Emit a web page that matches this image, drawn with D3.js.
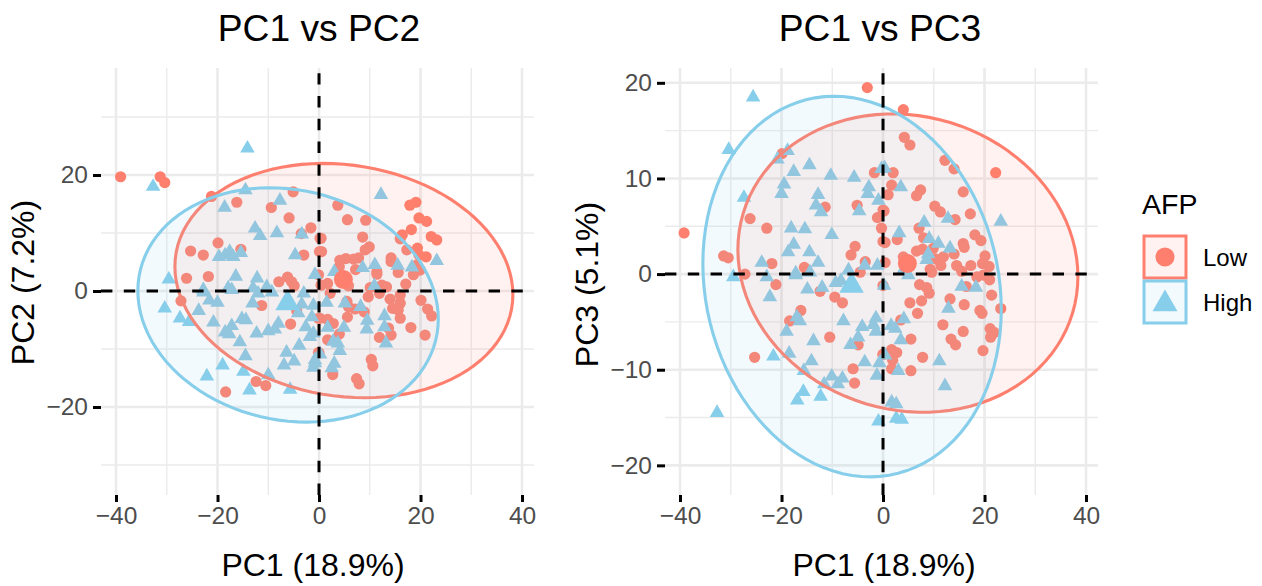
<!DOCTYPE html>
<html>
<head>
<meta charset="utf-8">
<script src="https://cdn.jsdelivr.net/npm/d3@7"></script>
<style>
  body { margin: 0; background: white; }
  text { font-family: "Liberation Sans", Arial, sans-serif; }
</style>
</head>
<body>
<div id="chart"></div>
<script>
// [PC1, PC2] scores
const lowPC2 = [[-39.1,19.7],[-31.3,19.7],[-30.4,18.7],[-21.2,16.3],[-16.2,15.3],[-9.4,14.4],[-5.1,17.1],[-5.9,12.6],[-1.6,10.9],[-3.5,9.9],[-19.9,8.3],[-25.3,6.9],[-22.8,6.2],[-15.4,7.2],[-3.0,6.2],[-26.1,2.2],[-21.8,2.5],[-7.9,1.6],[-6.2,2.4],[-5.4,1.6],[-4.9,0.9],[-0.1,2.8],[0.1,6.8],[0.2,9.1],
  [-27.2,-1.7],[-11.3,-2.5],[-4.4,-3.4],[-5.6,-5.7],[-0.1,-4.7],[-0.1,-10.6],[-12.4,-15.6],[-10.5,-16.3],[-18.4,-17.4],
  [3.7,14.8],[5.6,12.3],[9.2,12.2],[19.1,15.3],[17.9,14.8],[19.7,12.6],[21.2,12.0],[18.2,10.6],[16.4,9.7],[16.0,9.0],[22.1,9.4],[23.2,8.8],[0.4,9.1],[8.6,9.3],[9.9,7.6],[9.1,7.1],[0.5,6.8],[17.3,7.1],[19.4,7.4],[21.1,5.9],[19.7,6.2],[14.2,5.7],[14.2,5.1],[7.8,5.7],[6.8,5.5],[5.3,5.6],[4.1,5.3],[4.0,4.2],[7.2,3.7],[11.4,3.3],[11.4,2.9],[15.6,3.2],[19.9,3.6],[19.3,4.5],[18.6,2.8],[1.7,1.3],[0.4,1.0],[12.4,1.0],[13.3,0.7],[17.1,1.2],[10.1,0.6],[5.8,0.9],
  [2.2,-0.4],[9.7,-1.0],[11.9,-0.4],[14.0,-1.4],[16.0,-0.7],[16.0,-2.1],[14.5,-3.0],[15.6,-3.3],[16.0,-4.7],[20.1,-1.6],[21.4,-3.1],[22.2,-4.3],[18.1,-6.3],[20.9,-7.6],[14.2,-7.6],[11.9,-8.0],[13.7,-6.4],[5.6,-4.5],[5.8,-2.7],[5.5,-1.8],[7.1,-3.1],[8.9,-3.6],[0.2,-4.7],[1.7,-4.9],[2.8,-5.6],[4.0,-7.4],[1.7,-8.4],[0.0,-10.7],[10.3,-11.8],[10.6,-12.9],[2.7,-14.4],[7.4,-15.1],[7.9,-16.0]];

const highPC2 = [[-14.1,24.6],[-32.7,18.0],[-14.5,17.4],[-18.6,14.4],[-7.7,15.6],[-12.6,10.8],[-11.6,9.5],[-8.3,10.0],[-3.4,9.8],[-19.7,5.9],[-18.5,6.2],[-17.6,6.8],[-16.9,5.9],[-15.4,6.6],[-4.7,6.2],[-29.6,2.0],[-16.4,2.5],[-12.2,2.2],[-10.3,0.7],[-0.8,2.8],[-22.8,0.2],[-17.9,0.5],[-13.0,0.5],
  [-22.8,-0.2],[-17.2,0.2],[-12.0,-0.4],[-9.3,-0.2],[-21.6,-1.6],[-20.0,-2.0],[-23.7,-3.4],[-30.4,-3.0],[-27.4,-4.7],[-25.6,-5.3],[-20.8,-5.4],[-13.1,-2.1],[-3.0,-0.4],[-1.1,-2.5],[-3.4,-2.3],[-4.1,-3.8],[-1.4,-4.5],[-15.2,-4.8],[-14.4,-5.0],[-17.2,-6.0],[-18.5,-7.1],[-17.7,-7.4],[-12.3,-7.3],[-10.0,-6.9],[-8.0,-5.6],[-8.7,-6.6],[-2.6,-6.2],[-1.8,-7.9],[-1.1,-7.3],[-15.6,-8.8],[-3.9,-9.4],[-6.4,-10.6],[-14.5,-11.2],[-4.9,-12.1],[-6.9,-12.8],[-0.8,-11.9],[-1.1,-13.2],[-19.0,-12.8],[-14.9,-13.9],[-22.1,-14.7],[-10.0,-14.5],[-13.7,-17.1],[-5.7,-17.0],
  [12.2,16.6],[23.2,5.2],[8.6,4.0],[11.0,4.5],[15.5,4.4],[18.3,4.1],[3.0,3.3],[10.9,0.9],
  [1.5,-2.0],[5.1,-2.1],[8.2,-2.7],[12.9,-4.3],[9.5,-5.1],[9.4,-6.6],[12.9,-6.2],[4.9,-6.3],[1.7,-6.3],[2.8,-8.7],[3.7,-9.0],[4.1,-10.3],[13.2,-9.0],[3.0,-12.5],[2.5,-13.3],[0.2,-10.9],[-0.8,-12.4]];

// [PC1, PC3] scores
const lowPC3 = [[-3.1,19.5],[-19.9,12.6],[-1.7,10.6],[-11.4,7.0],[-5.1,7.2],[-26.2,5.8],[-22.9,4.8],[-39.2,4.3],[-1.1,5.9],[0.0,6.7],[-0.3,4.8],[-5.5,2.9],[-6.3,2.0],[-31.4,1.9],[-30.5,1.7],[-21.9,1.1],[-15.5,0.7],[-3.5,1.3],[-4.5,0.2],[-27.2,0.0],[0.0,3.4],
  [-21.1,-1.1],[-12.4,-1.8],[-9.5,-2.4],[-8.0,-3.0],[-16.2,-3.8],[-18.4,-4.9],[-10.5,-6.6],[-4.9,-7.4],[0.0,-8.4],[-25.3,-8.7],[-5.9,-9.9],[-5.6,-11.4],[0.0,-1.2],
  [4.0,17.2],[4.2,14.3],[5.3,13.5],[12.2,11.9],[14.0,11.0],[22.2,10.6],[2.0,10.6],[1.7,9.3],[1.0,8.3],[7.4,8.8],[6.6,8.2],[15.8,8.6],[10.2,7.1],[11.3,6.5],[14.2,5.7],[17.2,6.3],[0.2,6.6],[7.1,4.8],[8.0,3.8],[2.8,3.6],[0.4,3.3],[18.1,4.1],[19.3,3.5],[15.8,3.2],[16.0,2.8],[6.6,2.4],[7.8,2.6],[9.9,2.7],[14.0,2.1],[20.1,1.9],[19.6,1.1],[20.9,0.8],[17.3,0.9],[11.9,1.8],[10.3,1.6],[11.4,0.9],[9.3,0.5],[14.5,0.9],[15.5,0.3],[4.0,1.8],[0.4,1.2],
  [7.2,-1.1],[8.6,-1.4],[9.1,-2.0],[16.4,-1.3],[18.5,-0.3],[19.8,-0.1],[21.0,-0.6],[21.4,-2.2],[23.2,-3.6],[16.0,-3.2],[19.1,-3.8],[19.5,-4.1],[13.2,-2.6],[5.3,-3.0],[7.6,-2.8],[6.8,-4.1],[11.8,-5.3],[15.8,-6.0],[21.1,-5.7],[21.9,-6.1],[21.2,-6.6],[13.4,-6.8],[14.3,-7.4],[19.7,-8.0],[5.5,-6.8],[1.7,-7.9],[2.7,-8.2],[7.8,-8.7],[0.0,-8.4],[1.9,-9.0],[1.7,-9.9],[5.5,-10.1],[3.5,-4.8],[9.6,0.2]];

const highPC3 = [[-25.6,18.5],[-30.4,13.0],[-18.8,12.9],[-20.8,12.0],[-17.6,10.7],[-14.5,11.4],[-10.3,10.3],[-5.7,10.1],[-0.3,11.0],[-19.5,9.4],[-20.0,8.4],[-2.8,9.1],[-3.0,8.4],[-27.4,8.0],[-12.8,8.3],[-0.9,7.7],[-13.2,7.2],[-12.2,6.5],[-4.7,6.6],[-18.1,4.8],[-15.4,4.7],[-10.1,4.1],[-17.6,3.1],[-18.7,2.3],[-14.5,2.3],[-12.8,1.2],[-23.9,1.2],[-3.6,0.9],[-1.1,0.9],[-6.8,0.4],[-17.2,0.1],[-14.4,0.2],
  [-29.5,-0.3],[-22.9,-0.3],[-17.2,-0.1],[-14.9,-1.6],[-12.0,-1.4],[-9.3,-0.9],[-8.3,-0.7],[-22.3,-2.4],[-17.0,-4.5],[-16.4,-4.9],[-19.0,-6.0],[-7.8,-4.9],[-4.1,-5.5],[-1.4,-4.6],[-1.9,-5.3],[-1.4,-6.0],[-4.9,-6.6],[-6.4,-7.4],[-13.7,-7.0],[-18.5,-8.3],[-21.6,-8.6],[-14.1,-9.1],[-3.6,-9.2],[-0.7,-9.3],[-15.6,-10.1],[-1.2,-10.6],[-10.1,-10.7],[-8.0,-10.9],[-11.6,-11.5],[-8.9,-11.5],[-15.7,-12.3],[-16.9,-13.2],[-12.3,-12.8],[-32.7,-14.5],[-0.9,-15.4],
  [0.3,11.1],[3.5,9.1],[12.8,5.8],[8.1,5.4],[23.2,5.5],[3.2,4.3],[9.1,3.7],[10.9,3.2],[13.2,2.7],[8.9,2.1],[8.6,1.5],[4.0,0.4],
  [15.5,-1.3],[18.3,-1.4],[5.0,-0.1],[12.9,-3.6],[4.1,-4.7],[1.6,-5.4],[2.4,-5.7],[3.5,-6.9],[0.2,-1.2],[11.1,-9.1],[3.0,-10.1],[12.2,-11.7],[1.7,-13.4],[2.6,-13.6],[2.6,-15.1],[3.7,-15.2],[0.4,-8.5]];

// group means
const lowMean2 = [4.8, 2.0], highMean2 = [-6.2, -2.1];
const lowMean3 = [4.8, 1.1], highMean3 = [-6.2, -1.2];

// ellipse extents as [cx, cy, half width, half height, correlation]
const lowEll2 = [4.9, 1.8, 33.3, 20.2, -0.12], highEll2 = [-6.1, -2.4, 29.6, 20.2, -0.12];
const lowEll3 = [4.9, 1.15, 33.5, 15.6, -0.09], highEll3 = [-6.1, -1.3, 29.4, 19.9, -0.12];

const xTicks = [-40, -20, 0, 20, 40];
const xMinor = [-30, -10, 10, 30];
const groups = ['Low', 'High'];
const colors = { Low: '#FF7F6E', High: '#87CEEB' };

const W = 1262, H = 586;
const fmt = v => String(v).replace('-', '\u2212');

const svg = d3.select('#chart').append('svg')
  .attr('width', W)
  .attr('height', H)
  .style('display', 'block');

const sym = (type, size) => d3.symbol().type(type).size(size)();

function ellipsePts(e) {
  const [cx, cy, rx, ry, rho] = e;
  return d3.range(0, 101).map(i => {
    const t = i / 100 * 2 * Math.PI;
    return [cx + rx * Math.cos(t), cy + ry * (rho * Math.cos(t) + Math.sqrt(1 - rho * rho) * Math.sin(t))];
  });
}

function panel(o) {
  const g = svg.append('g');
  const x = d3.scaleLinear().domain(o.xDomain).range([o.left, o.right]);
  const y = d3.scaleLinear().domain(o.yDomain).range([o.bottom, o.top]);

  // grid
  g.selectAll('.minx').data(xMinor).join('line')
    .attr('x1', d => x(d)).attr('x2', d => x(d)).attr('y1', o.top).attr('y2', o.bottom)
    .attr('stroke', '#EBEBEB').attr('stroke-width', 1.4);
  g.selectAll('.miny').data(o.yMinor).join('line')
    .attr('y1', d => y(d)).attr('y2', d => y(d)).attr('x1', o.left).attr('x2', o.right)
    .attr('stroke', '#EBEBEB').attr('stroke-width', 1.4);
  g.selectAll('.majx').data(xTicks).join('line')
    .attr('x1', d => x(d)).attr('x2', d => x(d)).attr('y1', o.top).attr('y2', o.bottom)
    .attr('stroke', '#EBEBEB').attr('stroke-width', 2.6);
  g.selectAll('.majy').data(o.yTicks).join('line')
    .attr('y1', d => y(d)).attr('y2', d => y(d)).attr('x1', o.left).attr('x2', o.right)
    .attr('stroke', '#EBEBEB').attr('stroke-width', 2.6);

  // points
  g.selectAll('.low').data(o.low).join('circle')
    .attr('cx', d => x(d[0])).attr('cy', d => y(d[1])).attr('r', 5.6)
    .attr('fill', colors.Low);
  g.selectAll('.high').data(o.high).join('path')
    .attr('d', sym(d3.symbolTriangle, 92))
    .attr('transform', d => `translate(${x(d[0])},${y(d[1])})`)
    .attr('fill', colors.High);

  // ellipses go over the points
  const line = d3.line().x(d => x(d[0])).y(d => y(d[1]));
  [[o.lowEll, 'Low'], [o.highEll, 'High']].forEach(([e, k]) => {
    g.append('path')
      .attr('d', line(ellipsePts(e)) + 'Z')
      .attr('fill', colors[k]).attr('fill-opacity', 0.1)
      .attr('stroke', colors[k]).attr('stroke-width', 3.1);
  });

  // means
  g.append('circle')
    .attr('cx', x(o.lowMean[0])).attr('cy', y(o.lowMean[1])).attr('r', 9.5)
    .attr('fill', colors.Low);
  g.append('path')
    .attr('d', sym(d3.symbolTriangle, 260))
    .attr('transform', `translate(${x(o.highMean[0])},${y(o.highMean[1])})`)
    .attr('fill', colors.High);

  // reference lines
  g.append('line')
    .attr('x1', o.left).attr('x2', o.right).attr('y1', y(0)).attr('y2', y(0))
    .attr('stroke', 'black').attr('stroke-width', 3).attr('stroke-dasharray', '11.4,11.4');
  g.append('line')
    .attr('x1', x(0)).attr('x2', x(0)).attr('y1', o.bottom).attr('y2', o.top)
    .attr('stroke', 'black').attr('stroke-width', 3).attr('stroke-dasharray', '11.4,11.4');

  // axes
  const xAxis = g.append('g').attr('transform', `translate(0,${o.bottom})`)
    .call(d3.axisBottom(x).tickValues(xTicks).tickFormat(fmt).tickSize(7).tickPadding(5));
  const yAxis = g.append('g').attr('transform', `translate(${o.left},0)`)
    .call(d3.axisLeft(y).tickValues(o.yTicks).tickFormat(fmt).tickSize(8).tickPadding(5));
  xAxis.select('.domain').remove();
  yAxis.select('.domain').remove();
  g.selectAll('.tick line').attr('stroke', 'black').attr('stroke-width', 3);
  g.selectAll('.tick text').attr('font-size', 24.5).attr('fill', '#4D4D4D')
    .style('font-family', '"Liberation Sans", Arial, sans-serif');

  // titles
  g.append('text').attr('x', o.titleX).attr('y', 41)
    .attr('text-anchor', 'middle').attr('font-size', 37.2).text(o.title);
  g.append('text').attr('x', o.xLabelX).attr('y', 576)
    .attr('text-anchor', 'middle').attr('font-size', 32).text(o.xLabel);
  g.append('text')
    .attr('transform', `translate(${o.yLabelX},${o.yLabelY}) rotate(-90)`)
    .attr('text-anchor', 'middle').attr('font-size', 32).text(o.yLabel);
}

panel({
  left: 101, right: 534, top: 68, bottom: 495,
  xDomain: [-42.96, 42.36], yDomain: [-35.17, 38.45],
  yTicks: [-20, 0, 20], yMinor: [-30, -10, 10, 30],
  low: lowPC2, high: highPC2, lowMean: lowMean2, highMean: highMean2,
  lowEll: lowEll2, highEll: highEll2,
  title: 'PC1 vs PC2', xLabel: 'PC1 (18.9%)', yLabel: 'PC2 (7.2%)',
  titleX: 319, xLabelX: 313, yLabelX: 34, yLabelY: 282.5
});

panel({
  left: 665, right: 1098, top: 68, bottom: 495,
  xDomain: [-42.96, 42.36], yDomain: [-23.1, 21.55],
  yTicks: [-20, -10, 0, 10, 20], yMinor: [-15, -5, 5, 15],
  low: lowPC3, high: highPC3, lowMean: lowMean3, highMean: highMean3,
  lowEll: lowEll3, highEll: highEll3,
  title: 'PC1 vs PC3', xLabel: 'PC1 (18.9%)', yLabel: 'PC3 (5.1%)',
  titleX: 880, xLabelX: 884, yLabelX: 598, yLabelY: 284.5
});

// legend
const legend = svg.append('g');
legend.append('text').attr('x', 1142).attr('y', 214).attr('font-size', 28.5).text('AFP');
groups.forEach((k, i) => {
  const top = 236 + i * 45;
  legend.append('rect').attr('x', 1144).attr('y', top).attr('width', 42).attr('height', 42)
    .attr('fill', colors[k]).attr('fill-opacity', 0.1)
    .attr('stroke', colors[k]).attr('stroke-width', 3);
  const mark = k === 'Low'
    ? sym(d3.symbolCircle, Math.PI * 9.5 * 9.5)
    : sym(d3.symbolTriangle, 270);
  legend.append('path').attr('d', mark)
    .attr('transform', `translate(1165,${top + 21 + (i ? 2 : 0)})`)
    .attr('fill', colors[k]);
  legend.append('text').attr('x', 1203).attr('y', top + 30).attr('font-size', 24).text(k);
});
</script>
</body>
</html>
